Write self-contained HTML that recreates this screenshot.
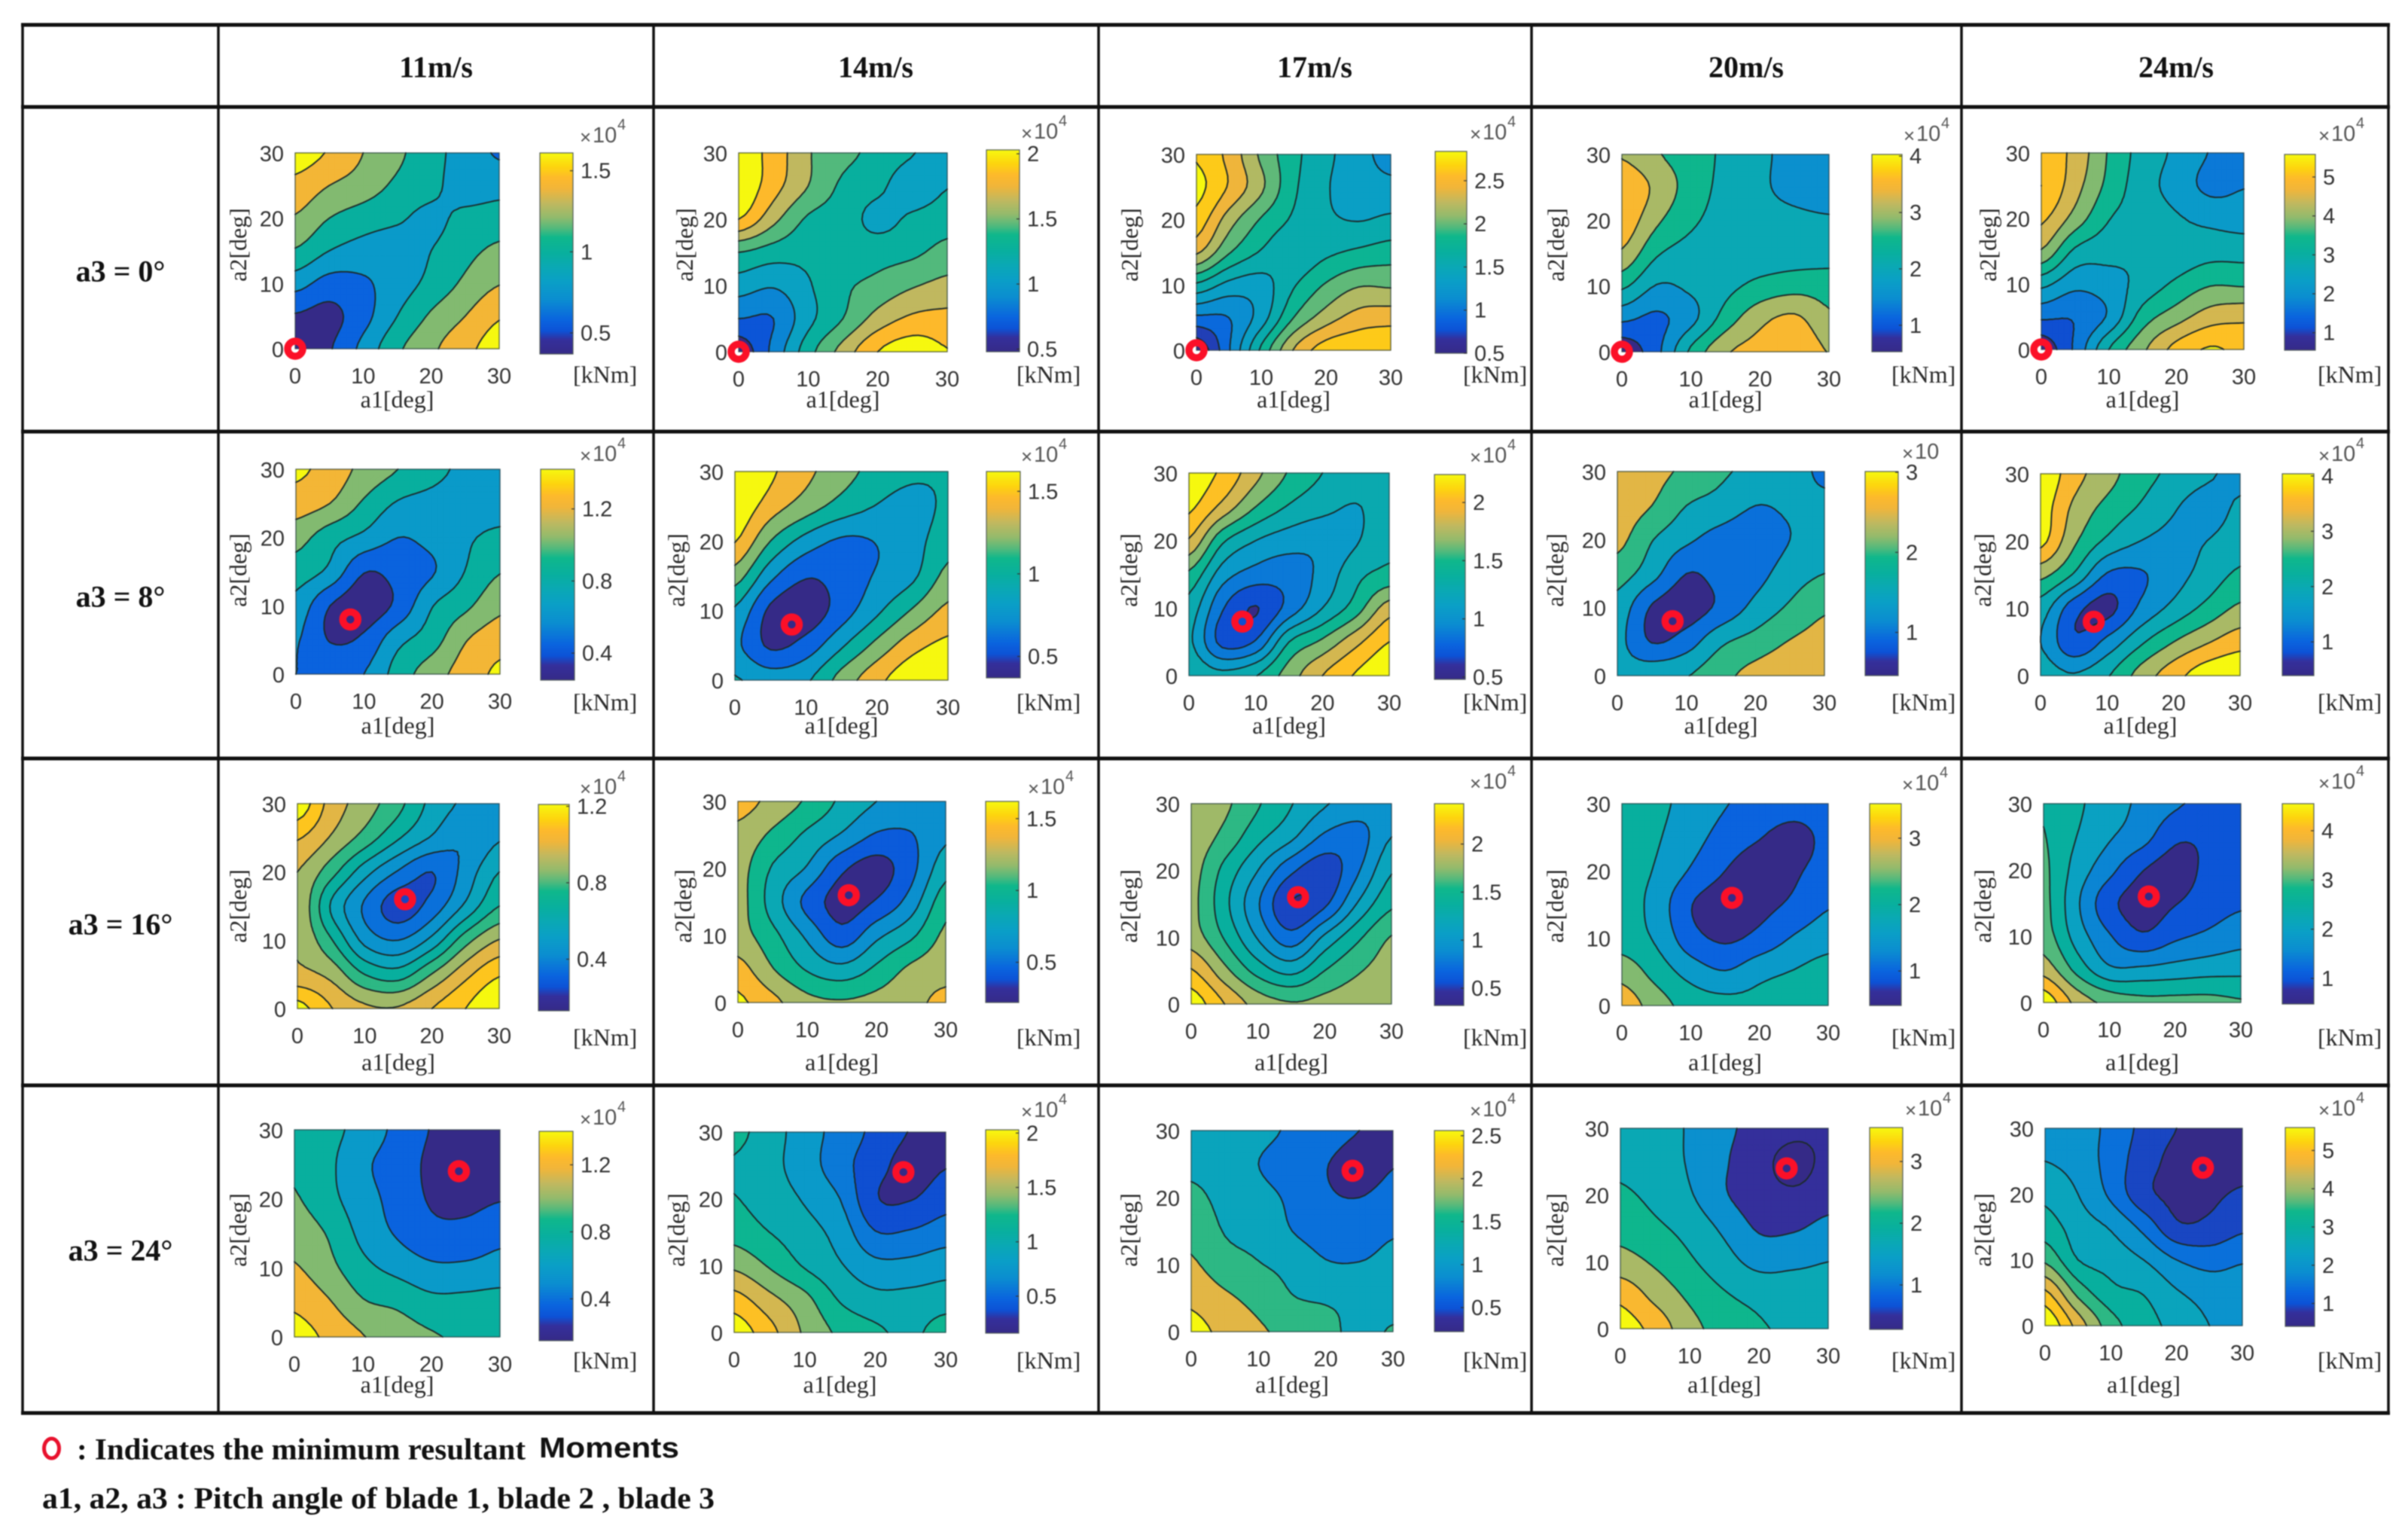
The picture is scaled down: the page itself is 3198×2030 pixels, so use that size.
<!DOCTYPE html>
<html lang="en">
<head>
<meta charset="utf-8">
<title>Resultant moment contour maps by wind speed and blade pitch</title>
<style>
  html, body { margin: 0; padding: 0; background: #fff; }
  #figure { display: block; width: 3198px; height: 2030px; filter: blur(0.8px); }
  .head { font: bold 40px "Liberation Serif", serif; fill: #111; text-anchor: middle; dominant-baseline: central; }
  .tick { font: 29px "Liberation Sans", sans-serif; fill: #333; dominant-baseline: central; }
  .title { font: 32px "Liberation Serif", serif; fill: #2a2a2a; dominant-baseline: central; }
  .note { font: bold 40px "Liberation Serif", serif; fill: #111; dominant-baseline: central; }
</style>
</head>
<body>
<svg id="figure" xmlns="http://www.w3.org/2000/svg" width="3198" height="2030" viewBox="0 0 3198 2030">
  <rect x="0" y="0" width="3198" height="2030" fill="#ffffff"/>
  <g stroke="#111" fill="none">
    <g stroke-width="5">
      <line x1="28" x2="3174" y1="33" y2="33"/>
      <line x1="28" x2="3174" y1="142" y2="142"/>
      <line x1="28" x2="3174" y1="573" y2="573"/>
      <line x1="28" x2="3174" y1="1007" y2="1007"/>
      <line x1="28" x2="3174" y1="1441" y2="1441"/>
      <line x1="28" x2="3174" y1="1876" y2="1876"/>
    </g>
    <g stroke-width="3.5">
      <line x1="30" x2="30" y1="33" y2="1876"/>
      <line x1="290" x2="290" y1="33" y2="1876"/>
      <line x1="868" x2="868" y1="33" y2="1876"/>
      <line x1="1459" x2="1459" y1="33" y2="1876"/>
      <line x1="2034" x2="2034" y1="33" y2="1876"/>
      <line x1="2605" x2="2605" y1="33" y2="1876"/>
      <line x1="3172" x2="3172" y1="33" y2="1876"/>
    </g>
  </g>
  <g>
    <text class="head" x="579" y="89">11m/s</text>
    <text class="head" x="1163" y="89">14m/s</text>
    <text class="head" x="1746" y="89">17m/s</text>
    <text class="head" x="2319" y="89">20m/s</text>
    <text class="head" x="2890" y="89">24m/s</text>
  </g>
  <g>
    <text class="head" x="160" y="360">a3 = 0°</text>
    <text class="head" x="160" y="792">a3 = 8°</text>
    <text class="head" x="160" y="1227">a3 = 16°</text>
    <text class="head" x="160" y="1660">a3 = 24°</text>
  </g>
  <g>
    <ellipse cx="68.5" cy="1923" rx="10" ry="13" fill="none" stroke="#e8112d" stroke-width="5"/>
    <text class="note" x="102" y="1924" textLength="596" lengthAdjust="spacingAndGlyphs">: Indicates the minimum resultant</text>
    <text x="716" y="1923" textLength="186" lengthAdjust="spacingAndGlyphs" style="font:bold 38px 'Liberation Sans',sans-serif;fill:#111;dominant-baseline:central">Moments</text>
    <text class="note" x="56" y="1989" textLength="893" lengthAdjust="spacingAndGlyphs">a1, a2, a3 : Pitch angle of blade 1, blade 2 , blade 3</text>
  </g>
  <g id="panels"></g>
</svg>
<script>
// ---------- Axis values shared by all panels ----------
const a1Samples = [0, 5, 10, 15, 20, 25, 30];
const a2SamplesTopDown = [30, 25, 20, 15, 10, 5, 0];
const axisTickValues = [0, 10, 20, 30];
const windSpeedLabels = ['11', '14', '17', '20', '24'];
const a3PitchValues = [0, 8, 16, 24];

// ---------- Number of filled contour bands per panel (rows a3, columns wind) ----------
const bandCounts = [
  [7, 9, 12, 8, 10],
  [7, 7, 10, 6, 8],
  [11, 8, 11, 7, 9],
  [7, 10, 6, 8, 11]
];

// ---------- Colorbar limits and ticks (x 10^4 kNm) ----------
const colorbarLow = [
  [0.37, 0.48, 0.5, 0.53, 0.55],
  [0.25, 0.37, 0.48, 0.46, 0.39],
  [0.13, 0.22, 0.32, 0.48, 0.48],
  [0.15, 0.16, 0.22, 0.28, 0.4]
];
const colorbarHigh = [
  [1.61, 2.03, 2.84, 4.03, 5.58],
  [1.42, 1.62, 2.24, 3.01, 4.04],
  [1.21, 1.62, 2.42, 3.52, 4.55],
  [1.4, 2.03, 2.56, 3.55, 5.6]
];
const colorbarTicks = [
  [['0.5','1','1.5'], ['0.5','1','1.5','2'], ['0.5','1','1.5','2','2.5'], ['1','2','3','4'], ['1','2','3','4','5']],
  [['0.4','0.8','1.2'], ['0.5','1','1.5'], ['0.5','1','1.5','2'], ['1','2','3'], ['1','2','3','4']],
  [['0.4','0.8','1.2'], ['0.5','1','1.5'], ['0.5','1','1.5','2'], ['1','2','3'], ['1','2','3','4']],
  [['0.4','0.8','1.2'], ['0.5','1','1.5','2'], ['0.5','1','1.5','2','2.5'], ['1','2','3'], ['1','2','3','4','5']]
];

// ---------- Moment field per panel, expressed in contour-level units.
// Rows run a2 = 30 down to 0, columns run a1 = 0 to 30. Value k sits on the k-th contour. ----------
const fieldR1C1 = [[6.5,5.9,5,4.2,3.4,2.5,1.9],[5.7,5.0,4.5,3.8,3.3,2.45,2.6],[4.9,4.0,3.5,3.15,2.75,3.3,3.5],[3.9,3.0,2.6,2.5,3.0,3.7,4.2],[2.4,1.6,1.85,2.5,3.3,4.2,4.95],[0.9,0.7,1.65,3.0,4.15,5.0,5.9],[0.3,0.9,2.3,3.8,4.8,5.7,6.5]];
const fieldR1C2 = [[8.6,7.6,6.1,5.3,4.7,4.05,3.5],[8.8,7.4,6,4.8,4.25,3.4,3.95],[8.0,6.3,4.85,4.5,3.7,4.2,4.55],[5.0,4.5,4.3,4.5,4.6,4.8,5.35],[3.5,3.1,3.9,4.8,5.3,5.9,6.3],[2.0,2.0,3.7,5.0,6.4,7.2,7.3],[0.3,2.3,4.6,6.4,8.0,8.6,8.05]];
const fieldR1C3 = [[10.9,9.7,7.8,6.3,5.25,4.4,3.6],[11.3,9.9,8.2,6.2,5.1,4.5,4.3],[10.6,8.5,6.9,5.85,5.2,4.95,5.2],[9.15,7.1,5.9,5.3,5.8,6.2,6.5],[5.8,4.7,4.6,5.9,7.1,7.9,7.85],[2.8,3.0,4.5,7.0,8.5,9.4,9.6],[0.2,2.9,6.2,9.05,10.5,10.8,10.9]];
const fieldR1C4 = [[5.9,5.1,4.5,3.8,3.2,2.7,2.6],[6.9,5.75,4.55,3.7,3.15,2.75,2.55],[6.7,5.2,4.2,3.6,3.3,3.2,3.1],[5.85,4.15,3.6,3.4,3.4,3.5,3.55],[4.2,2.95,3.2,3.7,4.3,4.6,4.55],[2.2,1.8,2.7,4.45,5.7,6.2,5.2],[0.3,1.7,4.2,5.85,6.4,6.85,5.95]];
const fieldR1C5 = [[8.6,7.7,5.9,4.6,3.8,2.95,2.6],[9.0,7.4,5.7,4.45,3.6,2.75,2.95],[8.2,6.6,5.05,4.55,4.1,3.75,3.55],[6.9,4.8,4.35,4.2,4.3,4.6,4.6],[4.3,3.3,3.6,4.35,5.2,5.9,5.85],[2.2,2.1,3.15,5.45,6.55,7.5,7.75],[0.3,2.2,5.0,6.8,8.35,9.1,8.7]];
const fieldR2C1 = [[6.2,5.6,4.7,4.0,3.35,2.75,2.6],[5.5,5.0,3.85,2.9,2.65,2.5,2.55],[4.4,3.4,2.75,2.0,2.3,2.85,3.25],[3.5,2.75,1.05,1.35,1.9,3.05,3.95],[2.65,1.0,0.45,1.25,2.95,3.8,4.75],[2.1,0.95,1.2,2.7,3.55,4.95,5.6],[2.0,1.95,2.0,3.45,4.55,5.45,6.2]];
const fieldR2C2 = [[7.5,6.2,5.25,4.4,3.65,3.2,3.1],[6.8,5.5,4.5,3.6,2.95,2.6,3.2],[6.05,4.0,2.6,1.85,2.05,2.6,3.6],[4.5,2.3,1.1,1.45,2.1,2.8,4.3],[2.85,0.8,0.4,1.5,2.8,4.1,5.25],[2.2,0.85,1.4,2.85,4.3,5.6,6.3],[3.1,2.5,2.85,4.4,5.7,6.8,7.5]];
const fieldR2C3 = [[9.6,8.8,7.3,5.9,5.0,4.6,4.5],[9.2,7.7,6.0,4.9,4.3,3.95,4.55],[7.9,5.2,4.0,3.45,3.3,3.9,4.8],[5.8,3.5,2.6,2.5,3.3,4.7,5.3],[4.6,2.1,0.95,2.4,4.0,5.5,7.5],[4.2,1.7,2.1,5.0,6.2,7.7,9.0],[4.9,4.3,4.95,6.5,8.0,9.1,9.8]];
const fieldR2C4 = [[4.75,4.3,3.8,3.15,2.75,2.35,1.85],[4.55,4.0,3.0,2.6,2.0,2.15,2.2],[4.3,3.05,2.2,1.6,1.4,2.0,2.5],[3.45,2.4,1.0,1.35,1.65,2.5,3.0],[2.6,0.9,0.5,1.25,2.3,3.15,3.85],[2.3,0.95,1.5,2.8,3.4,4.05,4.4],[2.4,2.7,2.95,3.7,4.35,4.7,4.9]];
const fieldR2C5 = [[7.8,6.4,5.4,4.4,3.75,3.15,2.75],[7.5,5.8,4.7,3.9,3.1,2.6,3.15],[7.3,5.2,3.8,3.0,2.75,3.0,3.5],[5.3,3.9,1.9,1.9,2.6,3.4,4.2],[3.5,1.4,0.7,2.2,3.3,4.3,5.2],[3.0,1.2,2.3,3.8,5.0,5.9,6.6],[3.6,3.1,3.9,5.4,6.6,7.6,7.9]];
const fieldR3C1 = [[10.7,8.6,7.5,6.3,4.7,3.8,3.5],[9.1,7.9,6.6,5.1,3.9,3.1,3.9],[8.0,6.4,4.4,2.9,2.0,3.4,5.0],[7.9,4.9,2.85,1.5,2.4,4.2,6.0],[7.9,6.1,3.7,3.0,4.3,6.6,8.05],[8.3,7.7,6.0,5.5,7.05,8.7,9.9],[10.4,9.05,8.2,8.1,9.0,10.0,11]];
const fieldR3C2 = [[6.4,5.7,4.85,3.8,3.0,2.6,2.5],[5.7,4.8,3.8,2.9,1.9,1.95,2.8],[5.4,3.9,2.9,1.2,0.6,1.7,3.6],[5.4,3.55,1.7,0.6,1.1,2.45,4.6],[5.4,4.3,2.8,1.4,2.75,3.8,5.2],[6.4,5.05,3.9,3.3,4.2,5.2,5.6],[7.2,6.3,5.3,5.1,5.3,5.7,6.3]];
const fieldR3C3 = [[7.7,7.2,6.1,5.05,4.1,3.5,3.2],[7.6,6.7,5.3,4.2,2.8,2.6,4.0],[7.4,5.7,4.0,2.2,1.4,2.9,4.9],[7.3,5.3,3.1,1.0,1.8,4.1,5.8],[7.5,5.9,3.9,2.4,4.2,5.8,7.05],[9.1,7.3,5.6,4.7,6.0,6.9,7.4],[10.6,9,7.6,7.1,7.3,7.5,7.6]];
const fieldR3C4 = [[3.6,3.2,2.7,2.05,1.75,1.5,1.6],[3.6,3.1,2.4,1.6,1.05,0.6,1.3],[3.5,2.9,1.9,1.0,0.5,0.85,1.4],[3.5,2.6,1.05,0.5,0.7,1.2,1.9],[3.55,2.85,1.4,0.85,1.3,2.1,2.6],[4.6,3.6,2.6,2.05,2.7,3.05,3.4],[5.6,4.5,3.6,3.35,3.3,3.5,3.6]];
const fieldR3C5 = [[4.9,4.2,3.4,2.8,2.15,1.7,1.5],[5.05,4.0,3.1,2.4,1.2,1.15,1.2],[5.2,3.6,2.3,1.05,0.6,1.2,1.4],[5.3,3.2,1.3,0.6,0.95,1.5,1.85],[5.5,3.6,2.1,1.15,1.8,2.2,2.6],[6.6,4.7,3.2,3.2,3.4,3.6,3.7],[8.7,6.7,5.7,5.3,5.3,5.3,5.1]];
const fieldR4C1 = [[3.7,3.3,2.6,1.75,0.95,0.6,0.7],[3.85,3.2,2.2,1.55,0.8,0.5,0.7],[4.1,3.3,2.4,1.65,0.9,0.75,0.95],[4.6,3.9,2.7,1.9,1.3,1.3,1.7],[5.1,4.3,3.3,2.7,2.2,2.2,2.4],[5.8,5.1,4.1,3.8,3.3,3.3,3.4],[6.4,5.8,5.05,4.5,4.1,3.85,3.8]];
const fieldR4C2 = [[5.3,4.45,3.5,2.6,1.75,0.95,0.75],[4.9,4.3,3.5,2.4,1.4,0.6,0.95],[5.05,4.5,3.9,3.0,1.1,0.95,1.6],[5.6,5.0,4.4,3.6,2.05,2.1,2.5],[6.8,5.9,4.9,4.1,3.3,3.3,3.6],[8.4,7.3,6.3,4.9,4.3,4.3,4.5],[9.6,8.35,6.85,5.8,5.2,4.8,5.5]];
const fieldR4C3 = [[2.9,2.6,2.3,1.85,1.55,1.0,0.8],[2.85,2.65,2.0,1.5,1.05,0.5,0.95],[3.2,2.75,2.35,1.8,1.15,1.0,1.4],[3.7,2.95,2.7,2.0,1.55,1.55,1.9],[4.15,3.4,3.05,2.7,2.1,2.05,2.3],[4.8,4.2,3.65,3.05,2.9,2.8,2.7],[5.3,4.75,4.15,3.7,3.2,2.85,3.05]];
const fieldR4C4 = [[3.7,3.4,2.9,2.2,1.7,1.3,1.2],[3.8,3.5,2.9,2.1,1.4,0.6,1.3],[4.15,3.75,3.1,2.1,1.45,1.2,1.6],[4.65,4.2,3.65,2.8,1.9,1.9,2.3],[5.4,4.85,4.15,3.4,2.7,2.8,3.0],[6.7,5.7,4.8,4.1,3.7,3.55,3.4],[7.5,6.65,5.35,4.6,4.1,3.85,3.7]];
const fieldR4C5 = [[3.7,3.4,2.75,1.7,1.0,0.7,0.6],[4.0,3.6,2.6,1.45,0.7,0.4,0.6],[4.75,4.0,2.8,1.3,0.75,0.8,1.15],[5.5,4.5,3.9,2.7,1.2,1.25,1.8],[6.8,5.0,4.6,4.0,3.0,2.6,2.9],[9.2,6.7,5.3,4.95,4.1,3.6,3.5],[10.9,8.6,6.45,5.4,4.7,4.0,3.9]];
const panelFields = [
  [fieldR1C1, fieldR1C2, fieldR1C3, fieldR1C4, fieldR1C5],
  [fieldR2C1, fieldR2C2, fieldR2C3, fieldR2C4, fieldR2C5],
  [fieldR3C1, fieldR3C2, fieldR3C3, fieldR3C4, fieldR3C5],
  [fieldR4C1, fieldR4C2, fieldR4C3, fieldR4C4, fieldR4C5]
];

// ---------- Page layout (not data): plot box and colorbar box of every panel ----------
const plotBoxes = [
  [[392,663,203,463],[981,1258,203,467],[1589,1847,205,465],[2154,2429,205,467],[2711,2980,203,464]],
  [[393,664,623,895],[976,1259,626,903],[1579,1845,628,897],[2148,2423,626,897],[2710,2975,629,897]],
  [[395,663,1067,1339],[980,1256,1064,1331],[1582,1848,1067,1333],[2154,2428,1067,1335],[2714,2976,1067,1331]],
  [[391,664,1500,1775],[975,1256,1503,1769],[1582,1850,1501,1768],[2152,2428,1498,1764],[2716,2978,1498,1760]]
];
const colorbarBoxes = [
  [[717,761,203,470],[1310,1354,199,467],[1906,1948,201,469],[2486,2526,205,467],[3034,3075,205,465]],
  [[718,763,623,903],[1310,1355,626,900],[1905,1946,630,902],[2477,2521,626,897],[3031,3073,629,897]],
  [[715,756,1068,1342],[1309,1353,1064,1331],[1905,1944,1067,1335],[2483,2525,1067,1335],[3031,3073,1067,1333]],
  [[716,761,1502,1780],[1309,1353,1500,1770],[1905,1944,1501,1768],[2483,2527,1497,1765],[3035,3074,1497,1761]]
];
const yTitleX = [[316,909,1500,2066,2640],[316,898,1499,2065,2633],[316,907,1499,2065,2633],[316,898,1499,2065,2633]];
const yTitleY = [325, 757, 1203, 1633];
const xTitleY = [530, 963, 1410, 1838];
const unitX = [761, 1350, 1943, 2512, 3078];
const unitY = [497, 932, 1377, 1806];
const exponentX = [[770,1356,1952,2528,3079],[770,1356,1952,2526,3079],[770,1365,1952,2526,3079],[770,1356,1952,2530,3079]];
const exponentY = [[180,175,176,178,178],[603,604,605,600,603],[1045,1045,1038,1040,1038],[1484,1474,1473,1472,1472]];

// ---------- Colormap ----------
const cmapPositions = [0, 0.07, 0.115, 0.17, 0.27, 0.36, 0.43, 0.5, 0.58, 0.625, 0.68, 0.75, 0.82, 0.875, 0.93, 1];
const cmapColors = [[53,42,135],[52,47,155],[12,82,214],[10,100,222],[11,141,208],[10,159,198],[10,168,180],[8,175,158],[15,183,139],[82,185,124],[146,186,108],[192,184,95],[240,181,58],[253,185,43],[253,212,14],[246,248,15]];
// The 24 deg / 20 m/s panel keeps its second band in the dark indigo end of the map.
const indigoSecondBandPanel = [3, 3];
const indigoTone = 0.07;

const SVG_NS = 'http://www.w3.org/2000/svg';
const panelsRoot = document.getElementById('panels');

function colormap(t) {
  const v = Math.max(0, Math.min(1, t));
  let i = 0;
  while (i < cmapPositions.length - 2 && v > cmapPositions[i + 1]) i++;
  const f = (v - cmapPositions[i]) / (cmapPositions[i + 1] - cmapPositions[i]);
  const a = cmapColors[i], b = cmapColors[i + 1];
  return 'rgb(' + [0, 1, 2].map(function (c) { return Math.round(a[c] + (b[c] - a[c]) * f); }).join(',') + ')';
}

function make(tag, attrs, parent, text) {
  const el = document.createElementNS(SVG_NS, tag);
  Object.keys(attrs).forEach(function (k) { el.setAttribute(k, attrs[k]); });
  if (text !== undefined) el.textContent = text;
  parent.appendChild(el);
  return el;
}

// Shared colorbar gradient
const defs = make('defs', {}, panelsRoot);
const barGradient = make('linearGradient', { id: 'colorbar-gradient', x1: 0, y1: 1, x2: 0, y2: 0 }, defs);
cmapPositions.forEach(function (p) {
  make('stop', { offset: p, 'stop-color': colormap(p) }, barGradient);
});

function catmull(p0, p1, p2, p3, t) {
  return 0.5 * (2 * p1 + (p2 - p0) * t + (2 * p0 - 5 * p1 + 4 * p2 - p3) * t * t + (3 * p1 - p0 - 3 * p2 + p3) * t * t * t);
}

function fieldAt(grid, a1, a2) {
  const stepA1 = a1Samples[1] - a1Samples[0];
  const stepA2 = a2SamplesTopDown[0] - a2SamplesTopDown[1];
  const cPos = (a1 - a1Samples[0]) / stepA1;
  const rPos = (a2SamplesTopDown[0] - a2) / stepA2;
  const lastC = a1Samples.length - 1, lastR = a2SamplesTopDown.length - 1;
  const c = Math.min(Math.floor(cPos), lastC - 1), r = Math.min(Math.floor(rPos), lastR - 1);
  const tc = cPos - c, tr = rPos - r;
  const rowVals = [];
  for (let i = -1; i <= 2; i++) {
    const row = grid[Math.max(0, Math.min(lastR, r + i))];
    const pick = function (k) { return row[Math.max(0, Math.min(lastC, k))]; };
    rowVals.push(catmull(pick(c - 1), pick(c), pick(c + 1), pick(c + 2), tc));
  }
  return catmull(rowVals[0], rowVals[1], rowVals[2], rowVals[3], tr);
}

function clipTriangle(tri, level) {
  const out = [];
  for (let i = 0; i < 3; i++) {
    const a = tri[i], b = tri[(i + 1) % 3];
    const aIn = a[2] >= level, bIn = b[2] >= level;
    if (aIn) out.push(a);
    if (aIn !== bIn) {
      const f = (level - a[2]) / (b[2] - a[2]);
      out.push([a[0] + (b[0] - a[0]) * f, a[1] + (b[1] - a[1]) * f, level]);
    }
  }
  return out;
}

function drawPanel(rowIdx, colIdx) {
  const grid = panelFields[rowIdx][colIdx];
  const bands = bandCounts[rowIdx][colIdx];
  const box = plotBoxes[rowIdx][colIdx];
  const bar = colorbarBoxes[rowIdx][colIdx];
  const tag = 'a3-' + a3PitchValues[rowIdx] + '-wind-' + windSpeedLabels[colIdx];
  const a1Max = a1Samples[a1Samples.length - 1], a2Max = a2SamplesTopDown[0];
  const xScale = function (a1) { return box[0] + (a1 / a1Max) * (box[1] - box[0]); };
  const yScale = function (a2) { return box[3] - (a2 / a2Max) * (box[3] - box[2]); };

  const panel = make('g', {}, panelsRoot);
  
  

  // Fine mesh through the sampled field
  const fine = 6;
  const cells = (a1Samples.length - 1) * fine;
  const nodes = [];
  for (let j = 0; j <= cells; j++) {
    const line = [];
    const a2 = a2Max * j / cells;
    for (let i = 0; i <= cells; i++) {
      const a1 = a1Max * i / cells;
      line.push([xScale(a1), yScale(a2), fieldAt(grid, a1, a2)]);
    }
    nodes.push(line);
  }
  const triangles = [];
  for (let j = 0; j < cells; j++) {
    for (let i = 0; i < cells; i++) {
      const p = nodes[j][i], q = nodes[j][i + 1], s = nodes[j + 1][i + 1], u = nodes[j + 1][i];
      triangles.push([p, q, s]);
      triangles.push([p, s, u]);
    }
  }

  // Lowest band fills the plot box
  const base = make('rect', { x: box[0], y: box[2], width: box[1] - box[0], height: box[3] - box[2], fill: colormap(0) }, panel);
  
  

  const fmt = function (v) { return v.toFixed(1); };
  for (let k = 1; k < bands; k++) {
    const parts = [];
    triangles.forEach(function (tri) {
      const poly = clipTriangle(tri, k);
      if (poly.length < 3) return;
      parts.push('M' + poly.map(function (pt) { return fmt(pt[0]) + ' ' + fmt(pt[1]); }).join('L') + 'Z');
    });
    if (!parts.length) continue;
    const useIndigo = k === 1 && rowIdx === indigoSecondBandPanel[0] && colIdx === indigoSecondBandPanel[1];
    const color = colormap(useIndigo ? indigoTone : k / (bands - 1));
    const band = make('path', { d: parts.join(''), fill: color, stroke: color, 'stroke-width': 0.5 }, panel);
    
    
  }

  // Contour lines
  const lineParts = [];
  for (let k = 1; k < bands; k++) {
    triangles.forEach(function (tri) {
      const hits = [];
      for (let i = 0; i < 3; i++) {
        const a = tri[i], b = tri[(i + 1) % 3];
        if ((a[2] >= k) !== (b[2] >= k)) {
          const f = (k - a[2]) / (b[2] - a[2]);
          hits.push(fmt(a[0] + (b[0] - a[0]) * f) + ' ' + fmt(a[1] + (b[1] - a[1]) * f));
        }
      }
      if (hits.length === 2) lineParts.push('M' + hits[0] + 'L' + hits[1]);
    });
  }
  const contours = make('path', { d: lineParts.join(''), fill: 'none', stroke: '#1c2a2a', 'stroke-width': 1.9, 'stroke-linecap': 'round' }, panel);
  
  

  const frame = make('rect', { x: box[0], y: box[2], width: box[1] - box[0], height: box[3] - box[2], fill: 'none', stroke: '#2b3a3a', 'stroke-width': 1.4, 'stroke-opacity': 0.7 }, panel);
  
  

  // Axis tick labels
  axisTickValues.forEach(function (v) {
    const xl = make('text', { class: 'tick', x: xScale(v), y: box[3] + 37, 'text-anchor': 'middle' }, panel, String(v));
    
    
    const yl = make('text', { class: 'tick', x: box[0] - 15, y: yScale(v) + 2, 'text-anchor': 'end' }, panel, String(v));
    
    
  });

  const xt = make('text', { class: 'title', x: (box[0] + box[1]) / 2, y: xTitleY[rowIdx], 'text-anchor': 'middle' }, panel, 'a1[deg]');
  
  
  const tx = yTitleX[rowIdx][colIdx], ty = yTitleY[rowIdx];
  const yt = make('text', { class: 'title', x: tx, y: ty, 'text-anchor': 'middle', transform: 'rotate(-90 ' + tx + ' ' + ty + ')' }, panel, 'a2[deg]');
  
  

  // Colorbar
  const cb = make('rect', { x: bar[0], y: bar[2], width: bar[1] - bar[0], height: bar[3] - bar[2], fill: 'url(#colorbar-gradient)', stroke: '#55605a', 'stroke-width': 1.2 }, panel);
  
  
  const low = colorbarLow[rowIdx][colIdx], high = colorbarHigh[rowIdx][colIdx];
  const cbScale = function (v) { return bar[3] - ((v - low) / (high - low)) * (bar[3] - bar[2]); };
  colorbarTicks[rowIdx][colIdx].forEach(function (label) {
    const ty2 = cbScale(parseFloat(label));
    const mark = make('line', { x1: bar[1] - 4, x2: bar[1], y1: ty2, y2: ty2, stroke: '#333', 'stroke-width': 1.2 }, panel);
    
    
    const tl = make('text', { class: 'tick', x: bar[1] + 10, y: ty2 + 1 }, panel, label);
    
    
  });

  // Exponent and unit
  const ex = exponentX[rowIdx][colIdx], ey = exponentY[rowIdx][colIdx];
  const times = make('text', { class: 'tick', x: ex, y: ey + 2, style: 'font-size:26px;fill:#555' }, panel, '×');
  
  
  const ten = make('text', { class: 'tick', x: ex + 17, y: ey, style: 'fill:#555' }, panel, '10');
  
  
  if (!(rowIdx === 1 && colIdx === 3)) {
    const four = make('text', { class: 'tick', x: ex + 50, y: ey - 14, style: 'font-size:20px;fill:#555' }, panel, '4');
    
    
  }
  const unit = make('text', { class: 'title', x: unitX[colIdx], y: unitY[rowIdx] }, panel, '[kNm]');
  
  

  // Minimum-moment marker sits at a1 = a2 = a3
  const pitch = a3PitchValues[rowIdx];
  const marker = make('circle', { cx: xScale(pitch), cy: yScale(pitch), r: 10, fill: 'none', stroke: '#fb1028', 'stroke-width': 9.5 }, panel);
  
  
}

for (let r = 0; r < panelFields.length; r++) {
  for (let c = 0; c < panelFields[r].length; c++) {
    drawPanel(r, c);
  }
}
</script>
</body>
</html>
